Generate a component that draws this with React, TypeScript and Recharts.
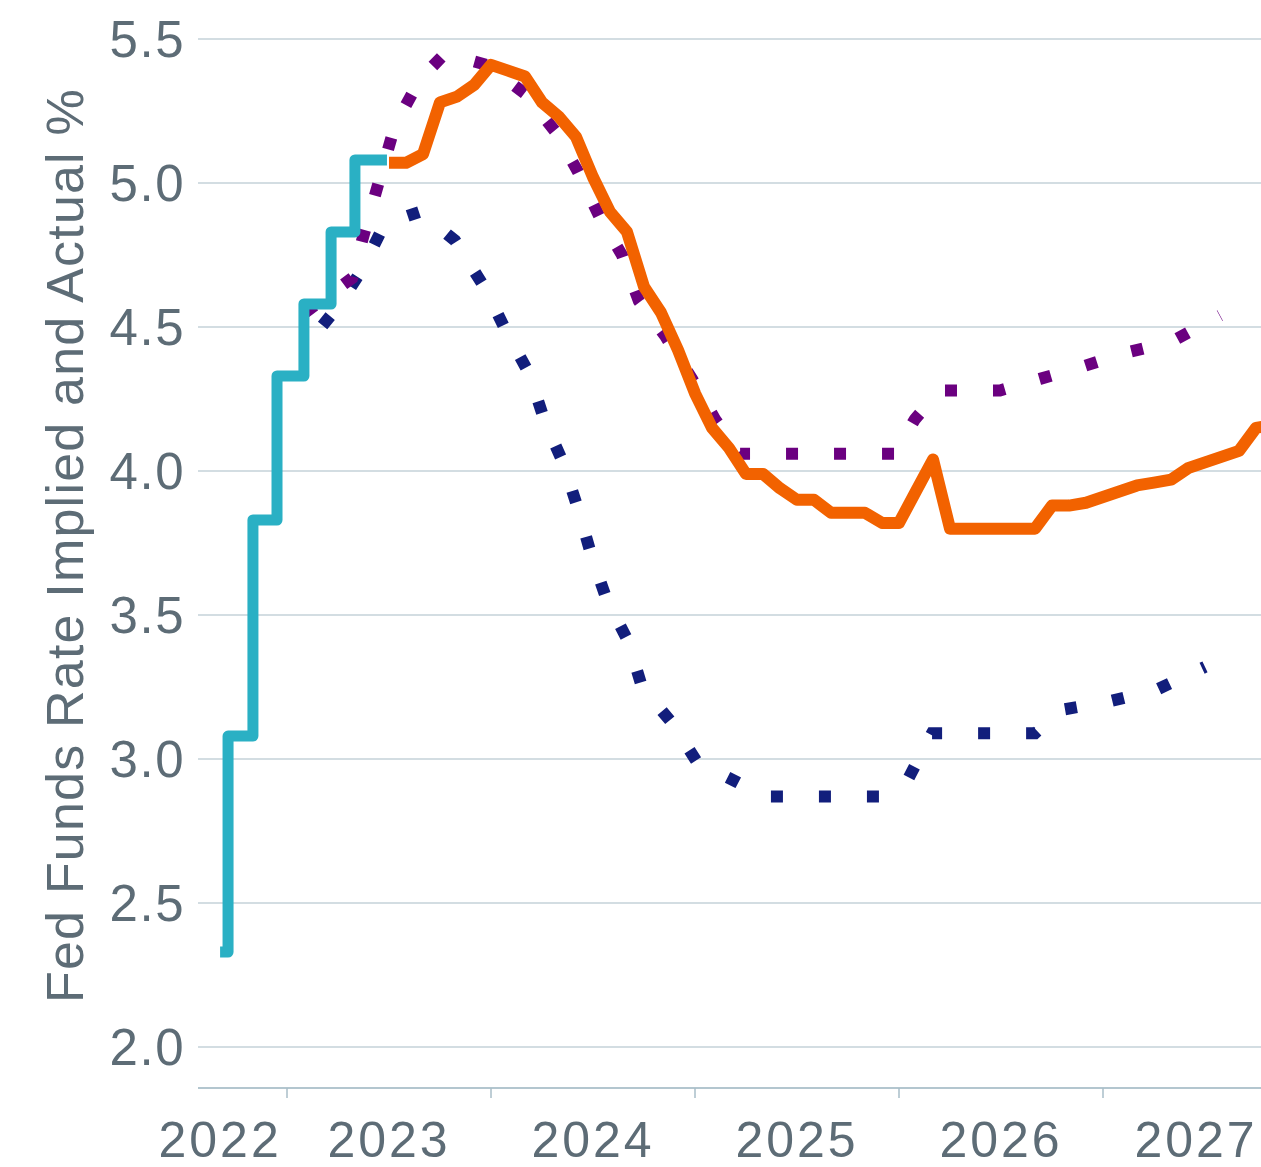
import React from 'react';
import { LineChart, Line, XAxis, YAxis, CartesianGrid, Label } from 'recharts';

// dates are decimal years
const actualDates = [2022.672, 2022.711, 2022.833, 2022.951, 2023.083, 2023.216, 2023.333, 2023.49];
const actualRates = [2.33, 3.08, 3.83, 4.33, 4.58, 4.83, 5.08, 5.08];

// market implied path, one value per month from mid 2023
const impliedStart = 2023.5;
const impliedRates = [
  5.07, 5.07, 5.1, 5.28, 5.3, 5.34, 5.41, 5.39, 5.37, 5.28, 5.23, 5.16,
  5.02, 4.9, 4.83, 4.64, 4.55, 4.42, 4.27, 4.15, 4.08, 3.99, 3.99, 3.94,
  3.9, 3.9, 3.855, 3.855, 3.855, 3.82, 3.82, 3.93, 4.04, 3.8, 3.8, 3.8,
  3.8, 3.8, 3.8, 3.88, 3.88, 3.89, 3.91, 3.93, 3.95, 3.96, 3.97, 4.01,
  4.03, 4.05, 4.07, 4.15, 4.16,
];

const upperDates = [
  2023.088, 2023.319, 2023.368, 2023.529, 2023.652, 2023.775, 2023.98, 2024.167, 2024.314,
  2024.426, 2024.534, 2024.642, 2024.725, 2024.853, 2024.985, 2025.098, 2025.221, 2025.98,
  2026.078, 2026.201, 2026.495, 2026.691, 2026.887, 2027.108, 2027.338, 2027.574,
];
const upperRates = [
  4.55, 4.67, 4.8, 5.2, 5.36, 5.45, 5.41, 5.31, 5.18,
  5.04, 4.88, 4.75, 4.59, 4.47, 4.32, 4.18, 4.06, 4.06,
  4.18, 4.28, 4.28, 4.32, 4.36, 4.41, 4.45, 4.54,
];

const lowerDates = [
  2023.088, 2023.26, 2023.368, 2023.48, 2023.652, 2023.824, 2023.975, 2024.078, 2024.186,
  2024.265, 2024.353, 2024.426, 2024.495, 2024.569, 2024.672, 2024.74, 2024.882, 2025.01,
  2025.206, 2025.343, 2025.907, 2026.044, 2026.162, 2026.667, 2026.789, 2027.029, 2027.26, 2027.5,
];
const lowerRates = [
  4.43, 4.58, 4.7, 4.86, 4.9, 4.8, 4.63, 4.48, 4.34,
  4.17, 4.03, 3.87, 3.7, 3.55, 3.41, 3.25, 3.13, 2.99,
  2.92, 2.87, 2.87, 2.93, 3.09, 3.09, 3.17, 3.2, 3.24, 3.32,
];

const rateTicks = [2.0, 2.5, 3.0, 3.5, 4.0, 4.5, 5.0, 5.5];
const yearTicks = [2023, 2024, 2025, 2026, 2027];
const yearLabelTicks = [2022.672, 2023.5, 2024.5, 2025.5, 2026.5, 2027.456];

const TEXT = '#5d6c76';
const GRID = '#c5d2d9';
const AXIS = '#a9bec8';
const FONT = '"Liberation Sans", Arial, sans-serif';

const zip = (dates: number[], rates: number[]) => dates.map((d, i) => ({ date: d, rate: rates[i] }));

const actual = zip(actualDates, actualRates);
const implied = impliedRates.map((r, i) => ({ date: impliedStart + i / 12, rate: r }));
const upper = zip(upperDates, upperRates);
const lower = zip(lowerDates, lowerRates);

function YearTick({ x, y, payload }: any) {
  const v = payload.value;
  if (Number.isInteger(v)) {
    return <line x1={x} x2={x} y1={y} y2={y + 10} stroke={AXIS} strokeWidth={1.5} />;
  }
  return (
    <text x={x} y={y + 69} textAnchor="middle" fill={TEXT} fontSize={50} letterSpacing={3} fontFamily={FONT}>
      {Math.floor(v)}
    </text>
  );
}

function AxisTitle({ viewBox }: any) {
  const cx = (viewBox?.x ?? 0) + 83;
  const cy = (viewBox?.y ?? 39) + (viewBox?.height ?? 1049) / 2 - 18;
  return (
    <text
      x={cx}
      y={cy}
      transform={`rotate(-90 ${cx} ${cy})`}
      textAnchor="middle"
      fill={TEXT}
      fontSize={52}
      letterSpacing={1.2}
      fontFamily={FONT}
    >
      Fed Funds Rate Implied and Actual %
    </text>
  );
}

export default function App() {
  return (
    <div style={{ width: 1261, height: 1167, fontFamily: FONT }}>
      <style>{'body{margin:0}'}</style>
      <LineChart width={1261} height={1167} margin={{ top: 39, right: 0, bottom: 0, left: 0 }}>
        <CartesianGrid vertical={false} stroke={GRID} strokeWidth={1.5} />
        <XAxis
          dataKey="date"
          type="number"
          domain={[2022.5637, 2027.7745]}
          allowDataOverflow
          ticks={[...yearTicks, ...yearLabelTicks].sort((a, b) => a - b)}
          interval={0}
          tick={<YearTick />}
          tickLine={false}
          tickSize={0}
          tickMargin={0}
          axisLine={{ stroke: AXIS, strokeWidth: 1.5 }}
          height={79}
        />
        <YAxis
          type="number"
          domain={[1.858, 5.5]}
          allowDataOverflow
          ticks={rateTicks}
          interval={0}
          tickFormatter={(v: number) => v.toFixed(1)}
          axisLine={false}
          tickLine={false}
          tickSize={0}
          tickMargin={13}
          width={198}
          tick={{ fill: TEXT, fontSize: 51, letterSpacing: 1.5, fontFamily: FONT }}
        >
          <Label content={<AxisTitle />} />
        </YAxis>
        <Line
          data={lower}
          dataKey="rate"
          type="linear"
          stroke="#121e7c"
          strokeWidth={12}
          strokeDasharray="12 36"
          strokeDashoffset={20}
          dot={false}
          activeDot={false}
          isAnimationActive={false}
        />
        <Line
          data={upper}
          dataKey="rate"
          type="linear"
          stroke="#6b0080"
          strokeWidth={12}
          strokeDasharray="12 36"
          dot={false}
          activeDot={false}
          isAnimationActive={false}
        />
        <Line
          data={actual}
          dataKey="rate"
          type="stepAfter"
          stroke="#2ab0c4"
          strokeWidth={11}
          strokeLinejoin="round"
          dot={false}
          activeDot={false}
          isAnimationActive={false}
        />
        <Line
          data={implied}
          dataKey="rate"
          type="linear"
          stroke="#f26200"
          strokeWidth={12}
          strokeLinejoin="round"
          dot={false}
          activeDot={false}
          isAnimationActive={false}
        />
      </LineChart>
    </div>
  );
}
